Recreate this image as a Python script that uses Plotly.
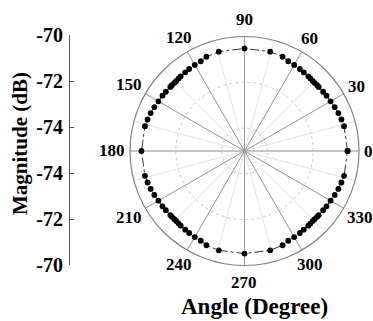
import math
import plotly.graph_objects as go

# Angle (degree) of each measured point
angles = [0, 14, 18, 22, 26, 30, 34, 37, 40.8, 42.2, 44.2, 45.8, 47.8, 49.5, 53, 56, 60, 64, 68, 75.5,
          90, 104.5, 112, 116, 120, 124, 127, 130.5, 132.2, 134.2, 135.8, 137.8, 139.2, 143, 146, 150, 154, 158, 162, 166,
          180, 194, 198, 202, 206, 210, 214, 217, 220.8, 222.2, 224.2, 225.8, 227.8, 229.5, 233, 236, 240, 244, 248, 255.5,
          270, 284.5, 292, 296, 300, 304, 307, 310.5, 312.2, 314.2, 315.8, 317.8, 319.2, 323, 326, 330, 334, 338, 342, 346,
          360]
# Magnitude (dB) of each measured point
magnitude = [-70.50, -70.52, -70.55, -70.58, -70.62, -70.66, -70.68, -70.70, -70.72, -70.72, -70.73, -70.73, -70.72, -70.71, -70.70, -70.68, -70.66, -70.64, -70.56, -70.52,
             -70.52, -70.52, -70.56, -70.64, -70.66, -70.68, -70.70, -70.71, -70.72, -70.73, -70.73, -70.72, -70.72, -70.70, -70.68, -70.66, -70.62, -70.58, -70.55, -70.52,
             -70.50, -70.52, -70.55, -70.58, -70.62, -70.66, -70.68, -70.70, -70.72, -70.72, -70.73, -70.73, -70.72, -70.71, -70.70, -70.68, -70.66, -70.64, -70.56, -70.52,
             -70.52, -70.52, -70.56, -70.64, -70.66, -70.68, -70.70, -70.71, -70.72, -70.73, -70.73, -70.72, -70.72, -70.70, -70.68, -70.66, -70.62, -70.58, -70.55, -70.52,
             -70.50]

angle_ticks = list(range(0, 360, 15))
major_angles = list(range(0, 360, 30))
major_labels = [str(a) for a in major_angles]
r_min, r_max = -75, -70
ring_vals = [-74, -72]

left_tickvals = [5, 3, 1, -1, -3, -5]
left_ticktext = ["-70", "-72", "-74", "-74", "-72", "-70"]

FONT = "Liberation Serif"
W, H = 373, 321
CX, CY, R = 244.5, 151.0, 114.5   # circle centre / radius in pixels


def px(x):
    return x / W


def py(y):
    return (H - y) / H


fig = go.Figure()

# major spokes (darker) drawn over light minor grid
sr, st = [], []
for a in major_angles:
    sr += [r_min, r_max, None]
    st += [a, a, None]
fig.add_trace(go.Scatterpolar(r=sr, theta=st, mode="lines",
                              line=dict(color="#9a9a9a", width=1),
                              hoverinfo="skip", showlegend=False))

fig.add_trace(go.Scatterpolar(
    r=magnitude, theta=angles, mode="lines+markers",
    line=dict(color="#333333", width=1, dash="dashdot"),
    marker=dict(color="black", size=5.8),
    showlegend=False))

# placeholder for the left magnitude axis
fig.add_trace(go.Scatter(x=[0], y=[0], mode="markers", marker=dict(opacity=0),
                         hoverinfo="skip", showlegend=False, xaxis="x", yaxis="y"))

# angular labels placed just outside the circle
annotations = []
for a, lab in zip(major_angles, major_labels):
    c, s = math.cos(math.radians(a)), math.sin(math.radians(a))
    w, h = 8.5 * len(lab), 12
    d = R + 5 + 6 * abs(s) + max(abs(c) * w / 2, abs(s) * h / 2)
    annotations.append(dict(text=lab, x=px(CX + d * c), y=py(CY - d * s),
                            xref="paper", yref="paper",
                            showarrow=False, xanchor="center", yanchor="middle",
                            font=dict(family=FONT, size=17, weight="bold", color="black")))

annotations += [
    dict(text="Magnitude (dB)", x=px(20), y=py(144), xref="paper", yref="paper",
         textangle=-90, showarrow=False, xanchor="center", yanchor="middle",
         font=dict(family=FONT, size=21, weight="bold", color="black")),
    dict(text="Angle (Degree)", x=px(254), y=py(306), xref="paper", yref="paper",
         showarrow=False, xanchor="center", yanchor="middle",
         font=dict(family=FONT, size=23, weight="bold", color="black")),
]

fig.update_layout(
    width=W, height=H,
    margin=dict(l=0, r=0, t=0, b=0, autoexpand=False),
    paper_bgcolor="white", plot_bgcolor="white",
    font=dict(family=FONT, color="black"),
    polar=dict(
        domain=dict(x=[px(CX - R), px(CX + R)], y=[py(CY + R), py(CY - R)]),
        bgcolor="white",
        angularaxis=dict(
            tickmode="array", tickvals=angle_ticks, showticklabels=False,
            direction="counterclockwise", rotation=0,
            showline=True, linecolor="#808080", linewidth=1.2,
            gridcolor="#e2e2e2", gridwidth=1, ticks="",
        ),
        radialaxis=dict(
            range=[r_min, r_max], tickmode="array", tickvals=ring_vals,
            showticklabels=False, ticks="", showline=False,
            gridcolor="#c8c8c8", griddash="dot", gridwidth=1,
        ),
    ),
    xaxis=dict(domain=[px(70), px(75)], visible=False, range=[-1, 1], fixedrange=True),
    yaxis=dict(
        domain=[py(265), py(35)], range=[-5, 5],
        tickmode="array", tickvals=left_tickvals, ticktext=left_ticktext,
        showline=True, linecolor="#555555", linewidth=1,
        ticks="inside", ticklen=4, tickcolor="#555555",
        showgrid=False, zeroline=False, side="left", automargin=False,
        tickfont=dict(family=FONT, size=20, weight="bold", color="black"),
        ticklabelstandoff=2,
    ),
    annotations=annotations,
)

fig.write_html("out.html", config={"displayModeBar": False},
               post_script="document.body.style.margin='0px';document.body.style.overflow='hidden';")
